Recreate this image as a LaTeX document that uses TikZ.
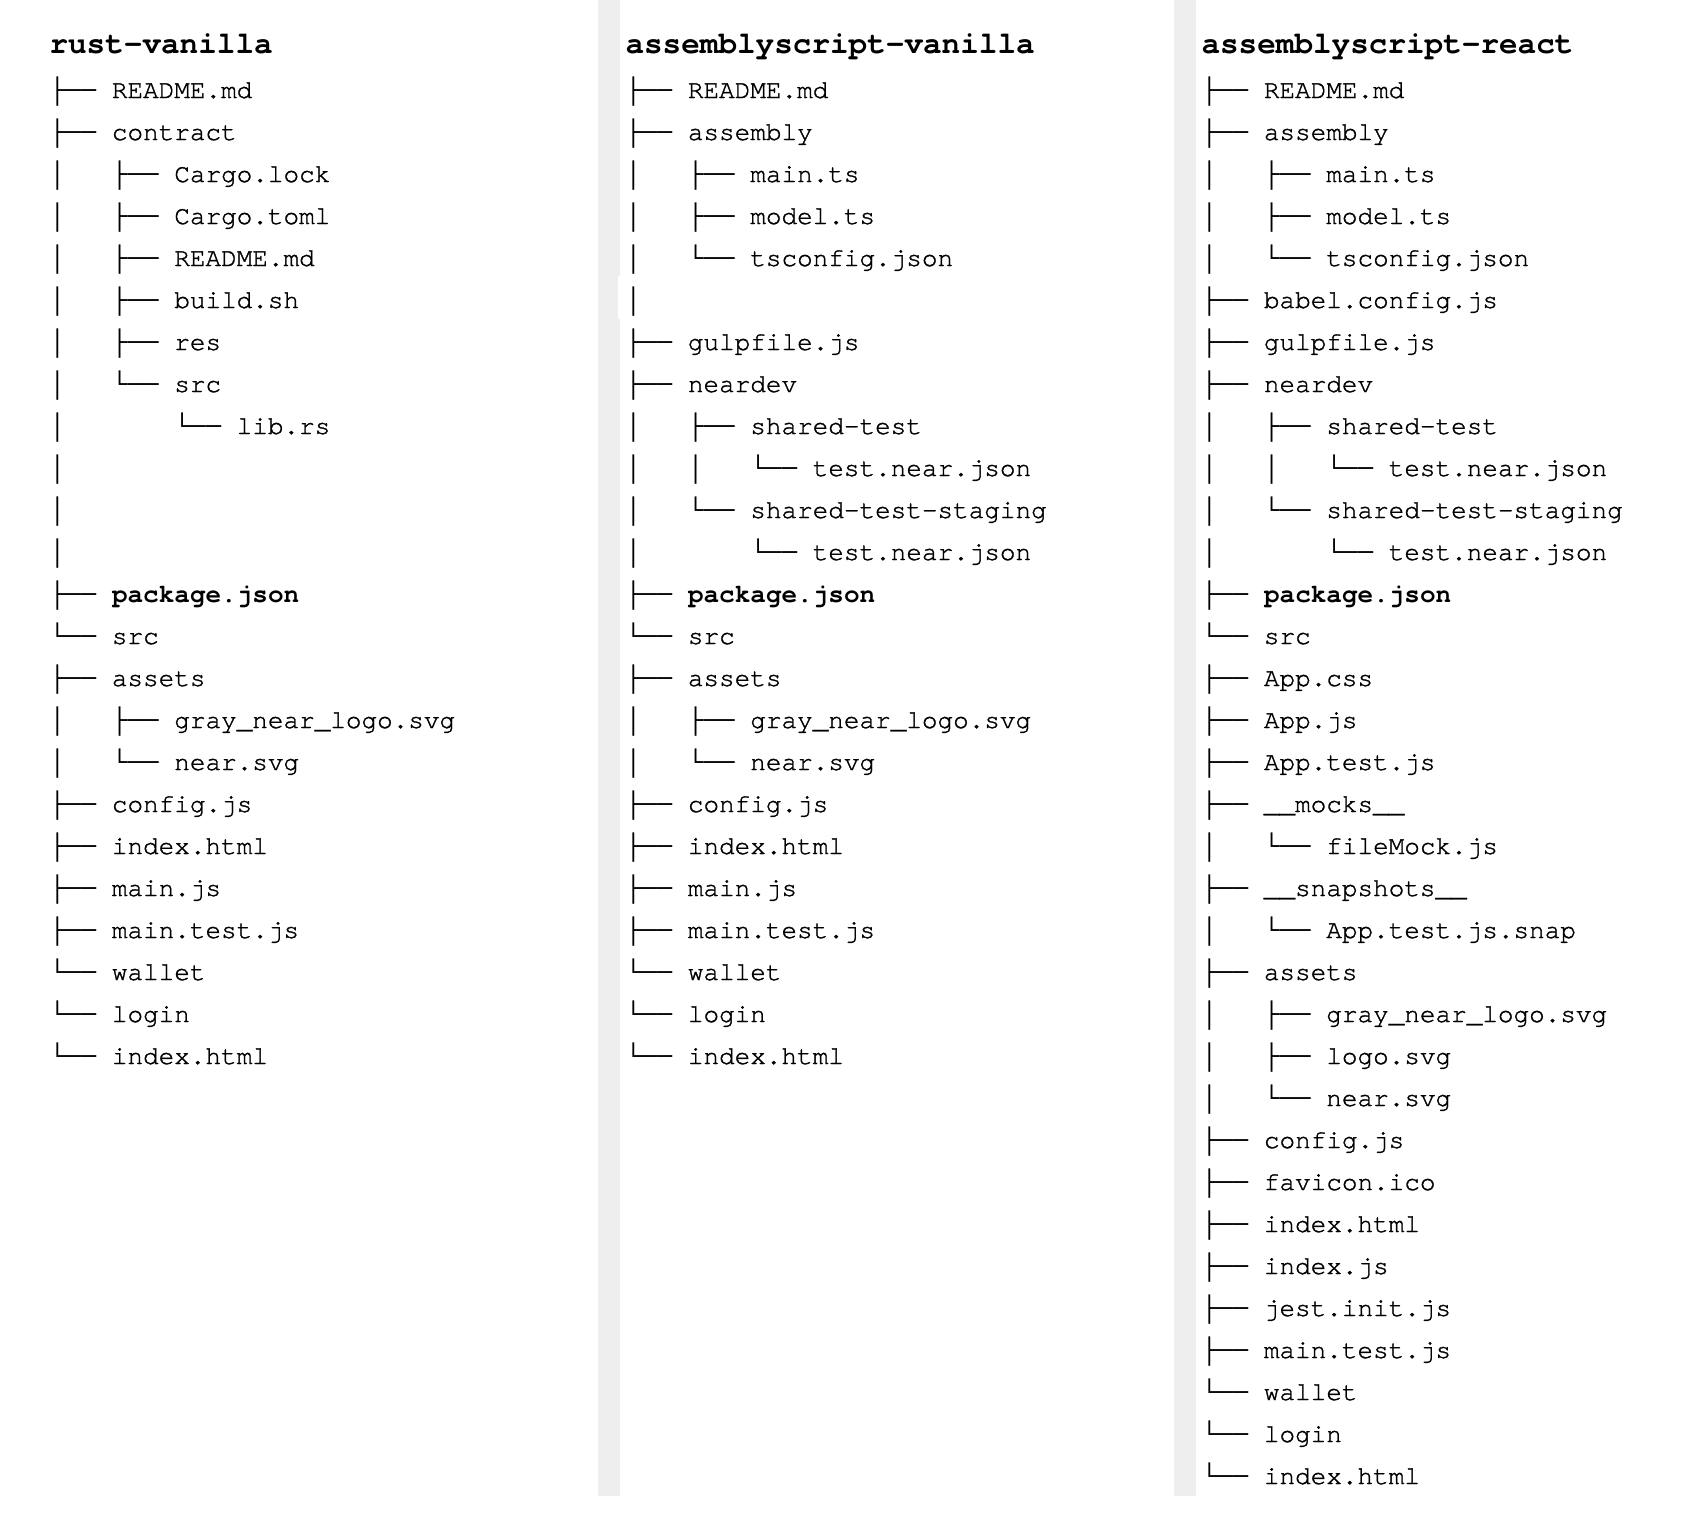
\documentclass[tikz,border=0pt]{standalone}
\usepackage{fontspec}
\setmonofont{TeX Gyre Cursor}[Ligatures=NoCommon,UprightFeatures={FakeBold=1.2}]
\newfontfamily\branchfont{Liberation Mono}
\begin{document}
\begin{tikzpicture}[x=1pt,y=-1pt,
  rowtext/.style={anchor=base west,inner sep=0pt,outer sep=0pt,
    font=\ttfamily\fontsize{26}{26}\selectfont,text=black},
  headtext/.style={rowtext,font=\ttfamily\bfseries\fontsize{31}{31}\selectfont}]
\definecolor{barfill}{HTML}{EEEEEE}
% canvas
\useasboundingbox (0,0) rectangle (1696,1534);
\fill[white] (0,0) rectangle (1696,1534);
% column separators
\fill[barfill] (598,0) rectangle (620,1496);
\fill[barfill] (1174,0) rectangle (1196,1496);
\fill[white] (618.3,276) rectangle (620.5,319);
% one line of a listing: name, column x, row number, branch glyphs, entry
\newcommand\lrow[5]{\node[rowtext] (#1) at (#2,{98+42*(#3-1)}) {{\branchfont #4}#5};}
\def\cA{49.5}\def\cB{625.5}\def\cC{1201.5}
% ---------------- rust-vanilla ----------------
\node[headtext] (ha) at (\cA,53) {rust-vanilla};
\lrow{a1}{\cA}{1}{├──~}{README.md}
\lrow{a2}{\cA}{2}{├──~}{contract}
\lrow{a3}{\cA}{3}{│~~~├──~}{Cargo.lock}
\lrow{a4}{\cA}{4}{│~~~├──~}{Cargo.toml}
\lrow{a5}{\cA}{5}{│~~~├──~}{README.md}
\lrow{a6}{\cA}{6}{│~~~├──~}{build.sh}
\lrow{a7}{\cA}{7}{│~~~├──~}{res}
\lrow{a8}{\cA}{8}{│~~~└──~}{src}
\lrow{a9}{\cA}{9}{│~~~~~~~└──~}{lib.rs}
\lrow{a10}{\cA}{10}{│}{}
\lrow{a11}{\cA}{11}{│}{}
\lrow{a12}{\cA}{12}{│}{}
\lrow{a13}{\cA}{13}{├──~}{\textbf{package.json}}
\lrow{a14}{\cA}{14}{└──~}{src}
\lrow{a15}{\cA}{15}{├──~}{assets}
\lrow{a16}{\cA}{16}{│~~~├──~}{gray\_near\_logo.svg}
\lrow{a17}{\cA}{17}{│~~~└──~}{near.svg}
\lrow{a18}{\cA}{18}{├──~}{config.js}
\lrow{a19}{\cA}{19}{├──~}{index.html}
\lrow{a20}{\cA}{20}{├──~}{main.js}
\lrow{a21}{\cA}{21}{├──~}{main.test.js}
\lrow{a22}{\cA}{22}{└──~}{wallet}
\lrow{a23}{\cA}{23}{└──~}{login}
\lrow{a24}{\cA}{24}{└──~}{index.html}
% ---------------- assemblyscript-vanilla ----------------
\node[headtext] (hb) at (\cB,53) {assemblyscript-vanilla};
\lrow{b1}{\cB}{1}{├──~}{README.md}
\lrow{b2}{\cB}{2}{├──~}{assembly}
\lrow{b3}{\cB}{3}{│~~~├──~}{main.ts}
\lrow{b4}{\cB}{4}{│~~~├──~}{model.ts}
\lrow{b5}{\cB}{5}{│~~~└──~}{tsconfig.json}
\lrow{b6}{\cB}{6}{│}{}
\lrow{b7}{\cB}{7}{├──~}{gulpfile.js}
\lrow{b8}{\cB}{8}{├──~}{neardev}
\lrow{b9}{\cB}{9}{│~~~├──~}{shared-test}
\lrow{b10}{\cB}{10}{│~~~│~~~└──~}{test.near.json}
\lrow{b11}{\cB}{11}{│~~~└──~}{shared-test-staging}
\lrow{b12}{\cB}{12}{│~~~~~~~└──~}{test.near.json}
\lrow{b13}{\cB}{13}{├──~}{\textbf{package.json}}
\lrow{b14}{\cB}{14}{└──~}{src}
\lrow{b15}{\cB}{15}{├──~}{assets}
\lrow{b16}{\cB}{16}{│~~~├──~}{gray\_near\_logo.svg}
\lrow{b17}{\cB}{17}{│~~~└──~}{near.svg}
\lrow{b18}{\cB}{18}{├──~}{config.js}
\lrow{b19}{\cB}{19}{├──~}{index.html}
\lrow{b20}{\cB}{20}{├──~}{main.js}
\lrow{b21}{\cB}{21}{├──~}{main.test.js}
\lrow{b22}{\cB}{22}{└──~}{wallet}
\lrow{b23}{\cB}{23}{└──~}{login}
\lrow{b24}{\cB}{24}{└──~}{index.html}
% ---------------- assemblyscript-react ----------------
\node[headtext] (hc) at (\cC,53) {assemblyscript-react};
\lrow{c1}{\cC}{1}{├──~}{README.md}
\lrow{c2}{\cC}{2}{├──~}{assembly}
\lrow{c3}{\cC}{3}{│~~~├──~}{main.ts}
\lrow{c4}{\cC}{4}{│~~~├──~}{model.ts}
\lrow{c5}{\cC}{5}{│~~~└──~}{tsconfig.json}
\lrow{c6}{\cC}{6}{├──~}{babel.config.js}
\lrow{c7}{\cC}{7}{├──~}{gulpfile.js}
\lrow{c8}{\cC}{8}{├──~}{neardev}
\lrow{c9}{\cC}{9}{│~~~├──~}{shared-test}
\lrow{c10}{\cC}{10}{│~~~│~~~└──~}{test.near.json}
\lrow{c11}{\cC}{11}{│~~~└──~}{shared-test-staging}
\lrow{c12}{\cC}{12}{│~~~~~~~└──~}{test.near.json}
\lrow{c13}{\cC}{13}{├──~}{\textbf{package.json}}
\lrow{c14}{\cC}{14}{└──~}{src}
\lrow{c15}{\cC}{15}{├──~}{App.css}
\lrow{c16}{\cC}{16}{├──~}{App.js}
\lrow{c17}{\cC}{17}{├──~}{App.test.js}
\lrow{c18}{\cC}{18}{├──~}{\_\_mocks\_\_}
\lrow{c19}{\cC}{19}{│~~~└──~}{fileMock.js}
\lrow{c20}{\cC}{20}{├──~}{\_\_snapshots\_\_}
\lrow{c21}{\cC}{21}{│~~~└──~}{App.test.js.snap}
\lrow{c22}{\cC}{22}{├──~}{assets}
\lrow{c23}{\cC}{23}{│~~~├──~}{gray\_near\_logo.svg}
\lrow{c24}{\cC}{24}{│~~~├──~}{logo.svg}
\lrow{c25}{\cC}{25}{│~~~└──~}{near.svg}
\lrow{c26}{\cC}{26}{├──~}{config.js}
\lrow{c27}{\cC}{27}{├──~}{favicon.ico}
\lrow{c28}{\cC}{28}{├──~}{index.html}
\lrow{c29}{\cC}{29}{├──~}{index.js}
\lrow{c30}{\cC}{30}{├──~}{jest.init.js}
\lrow{c31}{\cC}{31}{├──~}{main.test.js}
\lrow{c32}{\cC}{32}{└──~}{wallet}
\lrow{c33}{\cC}{33}{└──~}{login}
\lrow{c34}{\cC}{34}{└──~}{index.html}
\end{tikzpicture}
\end{document}
